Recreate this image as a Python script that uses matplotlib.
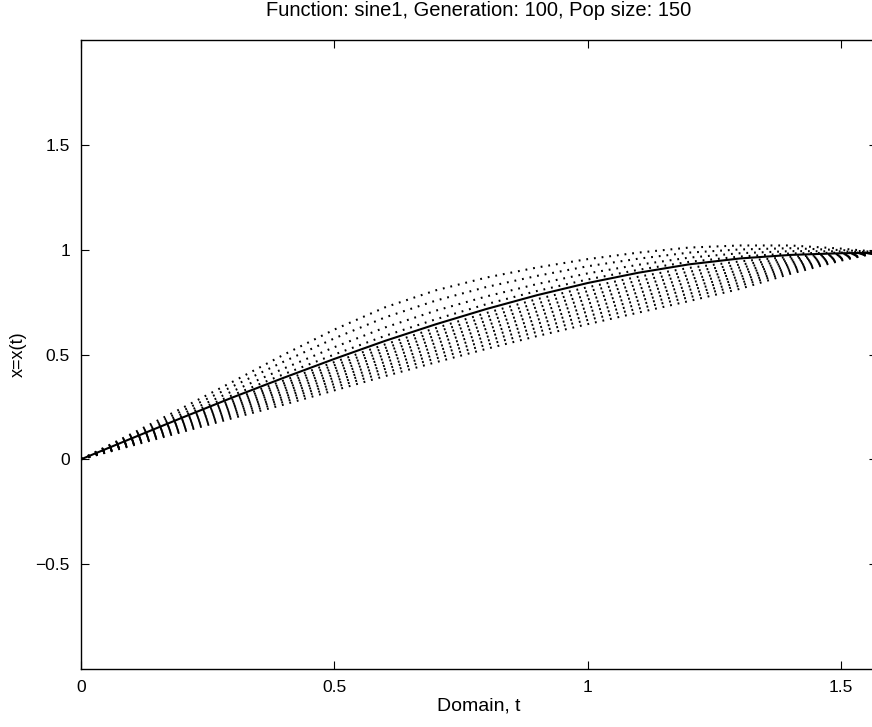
import matplotlib
matplotlib.use("Agg")
import matplotlib.pyplot as plt

plt.rcParams['font.family'] = ['Liberation Sans', 'DejaVu Sans']
plt.rcParams['lines.scale_dashes'] = False

# sample knots of the domain
t = [0, 0.1, 0.2, 0.3, 0.4, 0.5, 0.6, 0.7, 0.8, 0.9, 1.0,
     1.1, 1.2, 1.3, 1.4, 1.5, 1.5708]

# best individual (solid line)
best = [0, .100, .199, .296, .389, .479, .565, .644, .717, .783, .841,
        .890, .930, .958, .975, .983, .985]

# population members above the best
above_1 = [0, .103, .206, .307, .406, .500, .589, .668, .740, .803, .858,
           .904, .942, .967, .982, .986, .986]
above_2 = [0, .109, .217, .326, .433, .535, .629, .709, .777, .836, .887,
           .928, .962, .983, .993, .992, .987]
above_3 = [0, .115, .231, .349, .466, .577, .677, .757, .822, .875, .921,
           .957, .986, 1.001, 1.007, .998, .989]
above_4 = [0, .122, .245, .371, .499, .619, .725, .806, .867, .915, .955,
           .986, 1.010, 1.020, 1.020, 1.005, .990]

# population members below the best
below_1 = [0, .096, .192, .286, .376, .464, .548, .626, .698, .764, .821,
           .871, .913, .944, .966, .980, .985]
below_2 = [0, .093, .185, .276, .363, .449, .531, .608, .679, .744, .802,
           .852, .895, .929, .957, .976, .985]
below_3 = [0, .090, .179, .266, .351, .434, .515, .590, .660, .725, .782,
           .833, .878, .915, .948, .973, .985]
below_4 = [0, .086, .172, .256, .338, .419, .498, .572, .641, .705, .763,
           .814, .860, .900, .939, .969, .985]
below_5 = [0, .083, .165, .247, .325, .404, .481, .554, .622, .686, .743,
           .795, .843, .886, .930, .966, .985]
below_6 = [0, .079, .158, .237, .312, .389, .464, .535, .603, .666, .723,
           .776, .825, .871, .921, .962, .985]
below_7 = [0, .076, .151, .227, .299, .374, .447, .517, .584, .647, .704,
           .757, .808, .857, .912, .959, .985]
below_8 = [0, .072, .145, .217, .287, .359, .431, .499, .565, .627, .684,
           .738, .790, .842, .903, .955, .985]
below_9 = [0, .069, .138, .207, .274, .344, .414, .481, .546, .608, .665,
           .719, .773, .828, .894, .952, .985]
below_10 = [0, .065, .131, .197, .261, .329, .397, .463, .527, .588, .645,
            .700, .755, .813, .885, .948, .985]

population = [above_1, above_2, above_3, above_4,
              below_1, below_2, below_3, below_4, below_5,
              below_6, below_7, below_8, below_9, below_10]

xticks = [0, 0.5, 1, 1.5]
xticklabels = ['0', '0.5', '1', '1.5']
yticks = [-0.5, 0, 0.5, 1, 1.5]
yticklabels = ['\u22120.5', '0', '0.5', '1', '1.5']

title = 'Function: sine1, Generation: 100, Pop size: 150'
xlabel = 'Domain, t'
ylabel = 'x=x(t)'

fig = plt.figure(figsize=(8.72, 7.27), dpi=100)
ax = fig.add_axes([81 / 872, 1 - 669 / 727, (877 - 81) / 872, (669 - 40) / 727])

for member in population:
    ax.plot(t, member, color='black', lw=1.5, dashes=(1.3, 4.25),
            dash_capstyle='butt', solid_capstyle='butt')

ax.plot(t, best, color='black', lw=1.5)

ax.set_xlim(0, 1.5708)
ax.set_ylim(-1, 2)
ax.set_xticks(xticks)
ax.set_xticklabels(xticklabels)
ax.set_yticks(yticks)
ax.set_yticklabels(yticklabels)
ax.tick_params(direction='in', length=6, width=0.8, top=True, right=True,
               labelsize=12.5, pad=8, colors='black')
for s in ax.spines.values():
    s.set_linewidth(1.0)
    s.set_color('black')

ax.set_title(title, fontsize=14.5, pad=17)
ax.set_xlabel(xlabel, fontsize=14, labelpad=2)
ax.set_ylabel(ylabel, fontsize=13, labelpad=6)

fig.savefig('out.png', dpi=100)
